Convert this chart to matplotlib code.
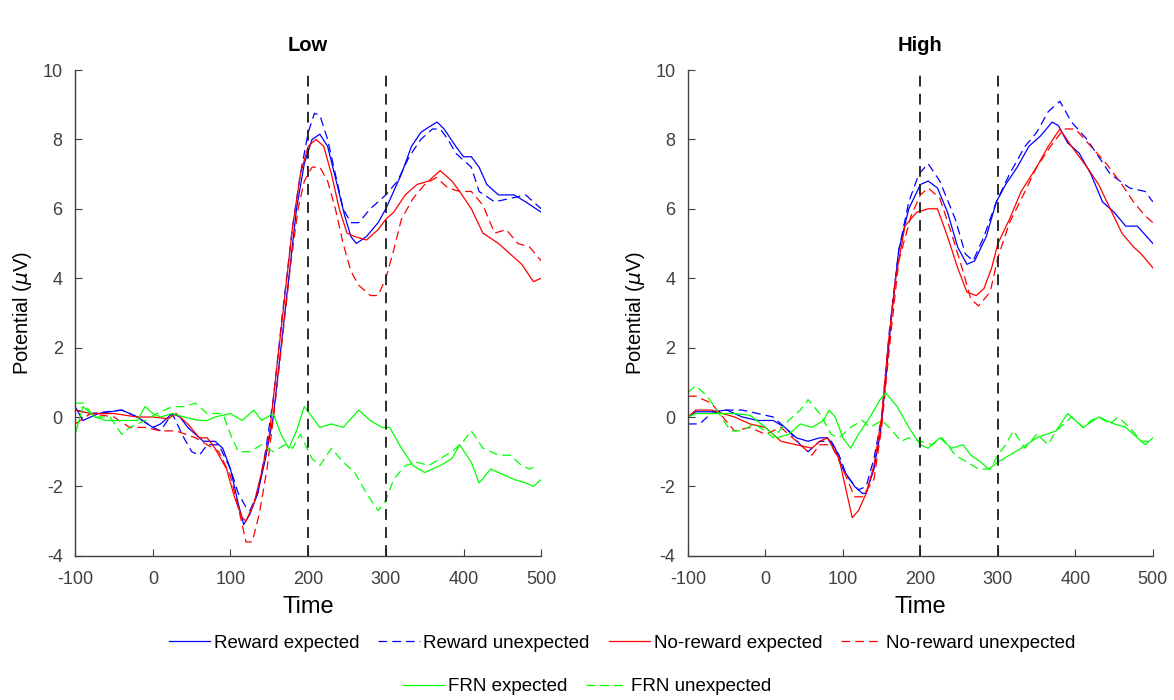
import matplotlib
matplotlib.use("Agg")
from matplotlib import pyplot as plt

plt.rcParams["font.family"] = ["Liberation Sans", "DejaVu Sans"]
plt.rcParams["axes.unicode_minus"] = False

conditions = ["Low", "High"]
vlines = [200, 300]
xticks = [-100, 0, 100, 200, 300, 400, 500]
yticks = [-4, -2, 0, 2, 4, 6, 8, 10]

# ---- Low ----
low_rew_exp_t = [-100, -90, -70, -40, -20, 0, 10, 25, 35, 45, 65, 80, 90, 100, 110, 117, 125, 135, 145, 155,
                 165, 175, 185, 195, 205, 215, 225, 235, 247, 255, 262, 275, 290, 300, 310, 320, 333, 345,
                 355, 366, 375, 390, 400, 410, 420, 430, 445, 465, 480, 500]
low_rew_exp = [0.3, -0.1, 0.1, 0.2, 0.0, -0.3, -0.2, 0.1, 0.0, -0.3, -0.7, -0.7, -0.9, -1.5, -2.5, -3.1, -2.8,
               -2.2, -1.2, 0.0, 2.0, 4.0, 6.0, 7.3, 8.0, 8.15, 7.8, 6.9, 5.8, 5.2, 5.0, 5.2, 5.6, 6.0, 6.5,
               7.0, 7.8, 8.2, 8.35, 8.5, 8.3, 7.8, 7.5, 7.5, 7.2, 6.7, 6.4, 6.4, 6.2, 5.9]

low_rew_unexp_t = [-100, -80, -60, -40, -20, 0, 10, 25, 40, 50, 60, 70, 85, 100, 110, 120, 125, 135, 145, 155,
                   167, 180, 190, 200, 208, 215, 225, 235, 245, 255, 265, 280, 300, 315, 330, 345, 360, 370,
                   380, 390, 410, 420, 440, 460, 480, 500]
low_rew_unexp = [0.2, 0.1, 0.15, 0.2, 0.0, -0.3, -0.4, 0.1, -0.6, -1.0, -1.1, -0.8, -0.8, -1.5, -2.2, -2.6,
                 -2.7, -2.2, -1.0, 0.5, 3.0, 5.5, 7.0, 8.2, 8.75, 8.7, 8.0, 7.0, 6.0, 5.6, 5.6, 6.0, 6.4,
                 6.8, 7.5, 8.0, 8.3, 8.3, 8.0, 7.6, 7.2, 6.5, 6.2, 6.3, 6.4, 6.0]

low_norew_exp_t = [-100, -80, -50, -20, 0, 20, 30, 45, 60, 70, 80, 95, 105, 115, 120, 130, 140, 150, 160, 170,
                   180, 190, 200, 210, 220, 230, 240, 250, 260, 275, 290, 300, 310, 325, 340, 355, 370, 385,
                   395, 410, 425, 445, 465, 475, 490, 500]
low_norew_exp = [0.2, 0.1, 0.1, 0.0, 0.0, -0.05, 0.1, -0.2, -0.6, -0.6, -0.9, -1.5, -2.3, -2.9, -3.0, -2.5,
                 -1.6, -0.5, 1.5, 3.5, 5.5, 7.0, 7.8, 8.0, 7.8, 7.0, 6.0, 5.3, 5.2, 5.1, 5.4, 5.7, 5.9, 6.4,
                 6.7, 6.8, 7.1, 6.8, 6.5, 6.0, 5.3, 5.0, 4.6, 4.4, 3.9, 4.0]

low_norew_unexp_t = [-100, -80, -50, -30, -10, 10, 30, 55, 70, 85, 100, 112, 120, 128, 137, 147, 157, 168, 178,
                     187, 195, 205, 215, 225, 235, 245, 255, 265, 280, 290, 300, 310, 320, 335, 350, 365, 380,
                     395, 410, 425, 440, 455, 470, 485, 500]
low_norew_unexp = [-0.2, 0.1, 0.0, -0.3, -0.3, -0.4, -0.4, -0.6, -0.8, -1.0, -1.7, -2.8, -3.6, -3.6, -2.8,
                   -1.5, 0.3, 2.5, 4.5, 6.0, 6.8, 7.2, 7.2, 6.8, 6.0, 5.0, 4.2, 3.8, 3.5, 3.5, 4.0, 4.8, 5.7,
                   6.3, 6.7, 6.9, 6.6, 6.5, 6.5, 6.1, 5.3, 5.4, 5.0, 4.9, 4.5]

low_frn_exp_t = [-100, -90, -75, -60, -40, -20, -10, 0, 10, 25, 40, 60, 70, 80, 100, 115, 130, 140, 155, 165,
                 175, 185, 195, 205, 215, 230, 245, 265, 280, 295, 305, 320, 335, 350, 370, 385, 395, 410, 420,
                 435, 445, 465, 480, 490, 500]
low_frn_exp = [-0.5, 0.3, 0.0, -0.1, -0.1, -0.1, 0.3, 0.1, 0.0, 0.1, 0.0, -0.1, -0.1, 0.0, 0.1, -0.1, 0.2,
               -0.1, 0.1, -0.5, -0.9, -0.4, 0.3, 0.0, -0.3, -0.2, -0.3, 0.2, -0.1, -0.3, -0.3, -0.9, -1.4,
               -1.6, -1.4, -1.2, -0.8, -1.3, -1.9, -1.5, -1.6, -1.8, -1.9, -2.0, -1.8]

low_frn_unexp_t = [-100, -90, -75, -55, -40, -30, -10, 5, 25, 40, 55, 70, 90, 100, 110, 125, 140, 155, 170, 180,
                   190, 205, 215, 230, 245, 260, 275, 290, 300, 310, 325, 340, 355, 370, 385, 400, 410, 425,
                   445, 460, 475, 485, 495]
low_frn_unexp = [0.4, 0.4, 0.0, 0.0, -0.5, -0.3, -0.1, 0.1, 0.3, 0.3, 0.4, 0.1, 0.1, -0.5, -1.0, -1.0, -0.8,
                 -1.0, -0.8, -0.9, -0.5, -1.2, -1.4, -0.9, -1.3, -1.6, -2.2, -2.7, -2.4, -1.8, -1.4, -1.3,
                 -1.4, -1.2, -1.0, -0.7, -0.4, -0.9, -1.1, -1.1, -1.4, -1.5, -1.4]

# ---- High ----
high_rew_exp_t = [-100, -90, -70, -50, -30, -10, 10, 25, 40, 55, 70, 80, 90, 100, 115, 125, 130, 140, 148, 155,
                  163, 172, 185, 200, 210, 222, 235, 248, 260, 270, 285, 298, 310, 325, 340, 355, 370, 378,
                  390, 405, 420, 435, 450, 465, 480, 500]
high_rew_exp = [0.0, 0.15, 0.15, 0.2, 0.0, -0.1, -0.1, -0.3, -0.6, -0.7, -0.6, -0.6, -0.9, -1.5, -2.0, -2.2,
                -2.2, -1.5, -0.5, 1.0, 3.0, 4.8, 6.0, 6.7, 6.8, 6.6, 5.9, 4.9, 4.4, 4.5, 5.2, 6.2, 6.7, 7.2,
                7.8, 8.1, 8.5, 8.4, 7.9, 7.6, 7.0, 6.2, 5.9, 5.5, 5.5, 5.0]

high_rew_unexp_t = [-100, -85, -70, -50, -30, -10, 10, 30, 45, 55, 70, 85, 95, 105, 120, 130, 140, 150, 160,
                    172, 185, 198, 210, 225, 245, 258, 268, 282, 298, 315, 335, 350, 365, 380, 395, 415, 430,
                    445, 470, 490, 500]
high_rew_unexp = [-0.2, -0.2, 0.1, 0.2, 0.2, 0.1, 0.0, -0.4, -0.8, -1.0, -0.7, -0.7, -1.1, -1.7, -2.1, -2.0,
                  -1.2, 0.0, 2.5, 4.8, 6.2, 7.0, 7.3, 6.8, 5.7, 4.7, 4.5, 5.2, 6.2, 7.0, 7.8, 8.2, 8.8, 9.1,
                  8.5, 8.0, 7.5, 7.0, 6.6, 6.5, 6.2]

high_norew_exp_t = [-100, -90, -70, -55, -40, -20, 0, 20, 40, 60, 70, 80, 95, 105, 112, 120, 130, 140, 150,
                    158, 168, 180, 195, 210, 222, 235, 248, 260, 272, 282, 292, 300, 315, 330, 350, 365, 380,
                    395, 415, 430, 445, 460, 475, 485, 500]
high_norew_exp = [0.0, 0.2, 0.2, 0.1, 0.0, -0.2, -0.3, -0.7, -0.8, -0.9, -0.7, -0.6, -1.2, -2.2, -2.9, -2.7,
                  -2.2, -1.4, 0.0, 2.0, 4.0, 5.5, 5.9, 6.0, 6.0, 5.2, 4.3, 3.6, 3.5, 3.7, 4.3, 5.0, 5.7, 6.5,
                  7.2, 7.8, 8.3, 7.8, 7.2, 6.7, 6.0, 5.3, 4.9, 4.7, 4.3]

high_norew_unexp_t = [-100, -90, -70, -55, -40, -20, 0, 20, 35, 50, 60, 70, 85, 100, 115, 125, 140, 150, 160,
                      172, 188, 200, 210, 225, 240, 255, 265, 275, 290, 300, 315, 335, 350, 368, 385, 400, 420,
                      440, 460, 475, 490, 500]
high_norew_unexp = [0.6, 0.6, 0.4, 0.0, -0.4, -0.3, -0.5, -0.3, -0.6, -0.9, -1.1, -0.8, -0.8, -1.5, -2.3,
                    -2.3, -1.8, -0.3, 2.0, 4.5, 5.8, 6.4, 6.6, 6.3, 5.3, 4.2, 3.4, 3.2, 3.6, 4.6, 5.6, 6.5, 7.2,
                    7.8, 8.3, 8.3, 7.8, 7.3, 6.7, 6.2, 5.8, 5.6]

high_frn_exp_t = [-100, -90, -60, -40, -20, 0, 15, 30, 45, 60, 75, 82, 90, 100, 110, 120, 135, 148, 155, 170,
                  185, 200, 210, 225, 240, 255, 265, 278, 288, 300, 315, 330, 350, 375, 390, 400, 410, 430,
                  450, 465, 480, 490, 500]
high_frn_exp = [0.0, 0.1, 0.1, 0.1, 0.05, -0.3, -0.6, -0.5, -0.2, -0.3, -0.1, 0.2, 0.0, -0.6, -0.9, -0.5, 0.0,
                0.5, 0.7, 0.3, -0.3, -0.8, -0.9, -0.6, -0.9, -0.8, -1.1, -1.3, -1.5, -1.3, -1.1, -0.9, -0.6,
                -0.4, 0.1, -0.1, -0.3, 0.0, -0.2, -0.3, -0.6, -0.8, -0.6]

high_frn_unexp_t = [-100, -90, -75, -60, -45, -30, -15, 0, 10, 30, 45, 55, 70, 85, 95, 110, 125, 135, 150, 160,
                    175, 185, 200, 215, 228, 245, 260, 275, 290, 300, 310, 320, 335, 350, 365, 375, 385, 395,
                    410, 420, 430, 445, 455, 470, 485, 495]
high_frn_unexp = [0.7, 0.9, 0.6, 0.1, -0.4, -0.4, -0.2, -0.4, -0.6, -0.1, 0.2, 0.5, 0.1, -0.5, -0.6, -0.3,
                  -0.1, -0.3, -0.1, -0.3, -0.7, -0.6, -0.7, -0.8, -0.6, -1.1, -1.3, -1.5, -1.5, -1.1, -0.8,
                  -0.4, -0.9, -0.5, -0.8, -0.4, -0.2, 0.0, -0.3, -0.1, 0.0, -0.2, 0.0, -0.3, -0.7, -0.7]

labels = ["Reward expected", "Reward unexpected", "No-reward expected", "No-reward unexpected",
          "FRN expected", "FRN unexpected"]
colors = ["#0000ff", "#0000ff", "#ff0000", "#ff0000", "#00ff00", "#00ff00"]
styles = ["-", "--", "-", "--", "-", "--"]

series = {
    "Low": [(low_rew_exp_t, low_rew_exp), (low_rew_unexp_t, low_rew_unexp),
            (low_norew_exp_t, low_norew_exp), (low_norew_unexp_t, low_norew_unexp),
            (low_frn_exp_t, low_frn_exp), (low_frn_unexp_t, low_frn_unexp)],
    "High": [(high_rew_exp_t, high_rew_exp), (high_rew_unexp_t, high_rew_unexp),
             (high_norew_exp_t, high_norew_exp), (high_norew_unexp_t, high_norew_unexp),
             (high_frn_exp_t, high_frn_exp), (high_frn_unexp_t, high_frn_unexp)],
}

fig = plt.figure(figsize=(11.74, 7.0), dpi=100)
axes = [fig.add_axes([0.064, 0.206, 0.397, 0.694]),
        fig.add_axes([0.586, 0.206, 0.396, 0.694])]

gray = "#404040"
handles = []
for ax, cond in zip(axes, conditions):
    handles = []
    for (t, v), lab, c, ls in zip(series[cond], labels, colors, styles):
        line, = ax.plot(t, v, color=c, linestyle=ls, linewidth=0.9, label=lab)
        if ls == "--":
            line.set_dashes((7, 4))
        handles.append(line)
    for xv in vlines:
        ax.axvline(xv, color="#1a1a1a", linestyle="--", dashes=(6, 4), linewidth=1.3)
    ax.set_xlim(-100, 500)
    ax.set_ylim(-4, 10)
    ax.set_xticks(xticks)
    ax.set_yticks(yticks)
    ax.tick_params(direction="in", length=5, colors=gray, labelsize=13)
    ax.tick_params(axis="x", pad=11)
    ax.tick_params(axis="y", pad=9)
    for side in ["top", "right"]:
        ax.spines[side].set_visible(False)
    for side in ["left", "bottom"]:
        ax.spines[side].set_color(gray)
        ax.spines[side].set_linewidth(1.0)
    ax.set_title(cond, fontsize=14.5, fontweight="bold", pad=14)
    ax.set_xlabel("Time", fontsize=17, labelpad=6)
    ax.set_ylabel(r"Potential ($\mu$V)", fontsize=14.5, labelpad=6)

fig.legend(handles[:4], labels[:4], loc="center", bbox_to_anchor=(0.53, 0.081), ncol=4,
           frameon=False, fontsize=13.5, handlelength=2.2, columnspacing=1.0, handletextpad=0.2)
fig.legend(handles[4:], labels[4:], loc="center", bbox_to_anchor=(0.50, 0.019), ncol=2,
           frameon=False, fontsize=13.5, handlelength=2.2, columnspacing=1.0, handletextpad=0.2)

fig.savefig("out.png", dpi=100)
